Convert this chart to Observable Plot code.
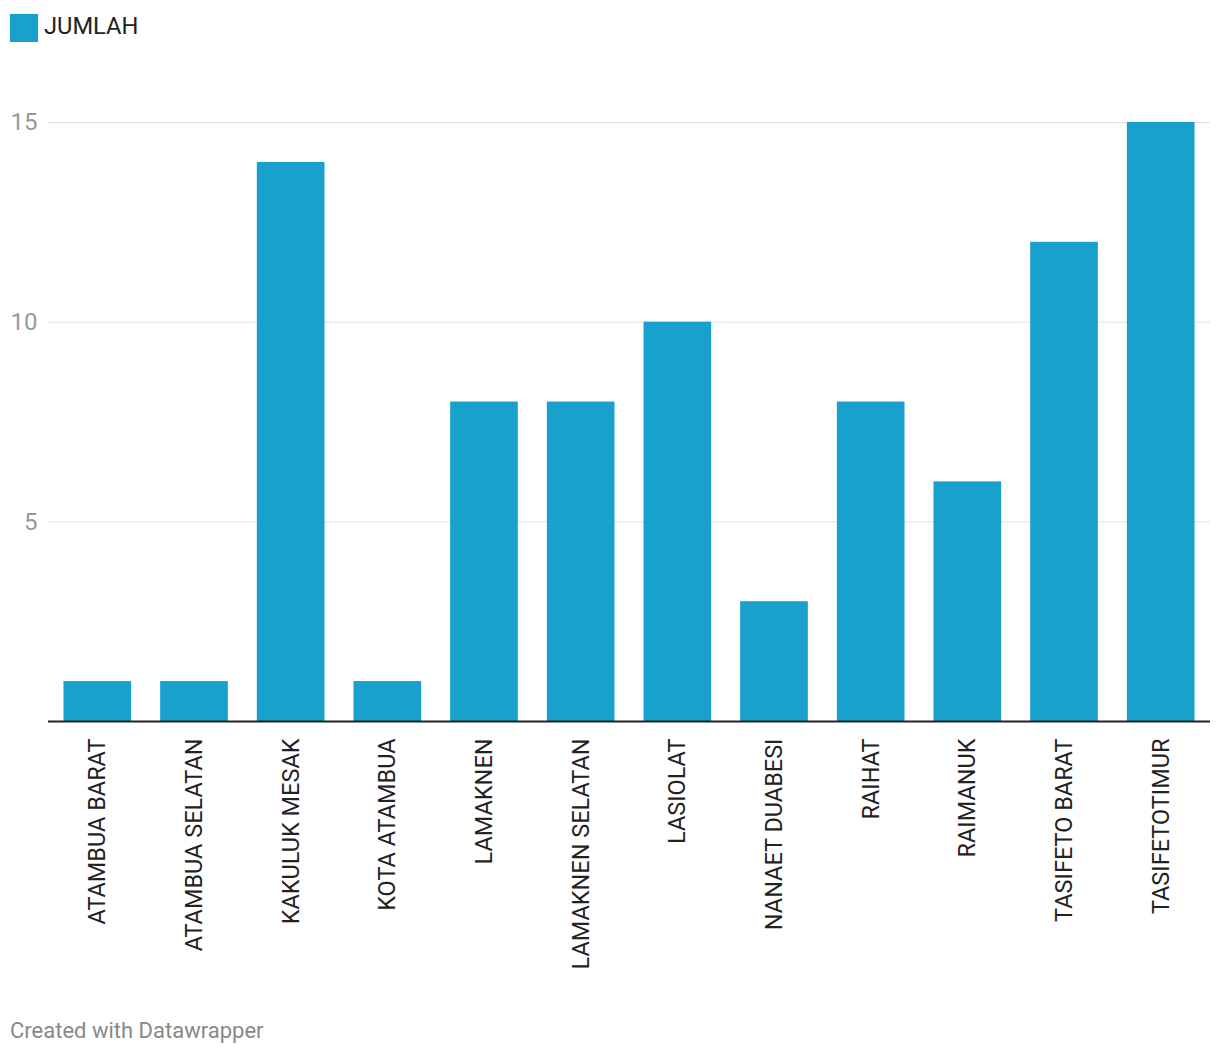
<!DOCTYPE html>
<html><head><meta charset="utf-8">
<script src="https://cdn.jsdelivr.net/npm/d3@7"></script>
<script src="https://cdn.jsdelivr.net/npm/@observablehq/plot@0.6"></script>
<style>
body{margin:0;background:#fff;font-family:Roboto,sans-serif;}
#legend{height:56px;position:relative;}
#legend .sw{position:absolute;left:10px;top:14px;width:28px;height:28px;background:#18a1cd;}
#legend .lb{position:absolute;left:44px;top:10px;font-size:23.7px;line-height:32px;color:#222;}
#footer{position:absolute;left:10px;top:1015px;font-size:22px;color:#888;line-height:32px;}
</style></head>
<body>
<div id="legend"><div class="sw"></div><div class="lb">JUMLAH</div></div>
<div id="chart"></div>
<div id="footer">Created with Datawrapper</div>
<script>
const categories = ["ATAMBUA BARAT","ATAMBUA SELATAN","KAKULUK MESAK","KOTA ATAMBUA","LAMAKNEN","LAMAKNEN SELATAN","LASIOLAT","NANAET DUABESI","RAIHAT","RAIMANUK","TASIFETO BARAT","TASIFETOTIMUR"];
const values = [1,1,14,1,8,8,10,3,8,6,12,15];
const yTicks = [5,10,15];
const data = categories.map((c,i)=>({name:c, value:values[i]}));

const chart = Plot.plot({
  width:1220, height:944,
  marginTop:66, marginBottom:279, marginLeft:48, marginRight:10,
  style:{fontFamily:"Roboto", fontSize:"23.5px", background:"#fff"},
  x:{domain:categories, paddingInner:0.3, paddingOuter:0.16, round:false, label:null},
  y:{domain:[0,15], label:null},
  marks:[
    Plot.gridY(yTicks, {stroke:"#e0e0e0", strokeOpacity:1, strokeWidth:1}),
    Plot.axisY(yTicks, {tickSize:0, tickPadding:11, fill:"#999", fontSize:24, label:null}),
    Plot.barY(data, {x:"name", y:"value", fill:"#18a1cd"}),
    Plot.ruleY([0], {stroke:"#222", strokeWidth:2}),
    Plot.axisX({tickSize:0, tickPadding:17, tickRotate:-90, fill:"#222", fontSize:23.5, label:null})
  ]
});
document.getElementById("chart").appendChild(chart);
</script>
</body></html>
